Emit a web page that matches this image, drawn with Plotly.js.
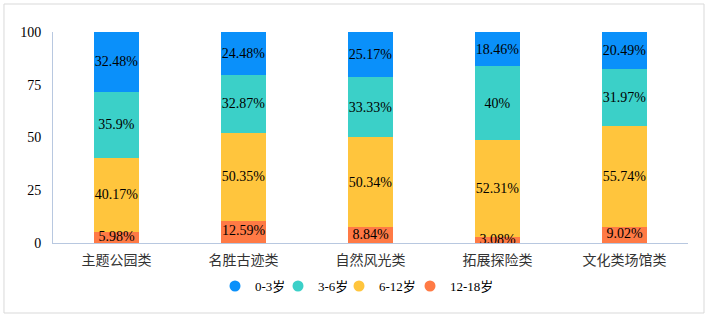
<!DOCTYPE html>
<html>
<head>
<meta charset="utf-8">
<script src="https://cdn.plot.ly/plotly-3.0.1.min.js"></script>
<style>html,body{margin:0;padding:0;background:#fff;}#chart{width:708px;height:319px;}</style>
</head>
<body>
<div id="chart"></div>
<script>
const categories = ['主题公园类', '名胜古迹类', '自然风光类', '拓展探险类', '文化类场馆类'];
const seriesNames = ['12-18岁', '6-12岁', '3-6岁', '0-3岁'];
const age12to18 = [5.98, 12.59, 8.84, 3.08, 9.02];
const age6to12 = [40.17, 50.35, 50.34, 52.31, 55.74];
const age3to6 = [35.9, 32.87, 33.33, 40, 31.97];
const age0to3 = [32.48, 24.48, 25.17, 18.46, 20.49];
const yTicks = [0, 25, 50, 75, 100];

const colors = ['#FF7A45', '#FFC53D', '#3BD0C8', '#0A90FA'];
const seriesValues = [age12to18, age6to12, age3to6, age0to3];
const FONT = '"Liberation Serif", "Noto Sans CJK SC", serif';

const traces = [];
seriesValues.forEach((vals, i) => {
  const bottom = i === 0;
  traces.push({
    type: 'bar',
    x: categories,
    y: vals,
    name: seriesNames[i],
    marker: {color: colors[i]},
    text: vals.map(v => v + '%'),
    textposition: bottom ? 'none' : 'inside',
    insidetextanchor: 'middle',
    constraintext: 'none',
    textangle: 0,
    insidetextfont: {family: FONT, size: 14, color: '#000'},
    hoverinfo: 'none',
    showlegend: false
  });
});
// labels of the bottom (thin) segments drawn on top so they can overflow the bar
const totals = categories.map((c, j) => seriesValues.reduce((s, arr) => s + arr[j], 0));
traces.push({
  type: 'scatter',
  mode: 'text',
  x: categories,
  y: age12to18.map((v, j) => v / totals[j] * 100 / 2),
  text: age12to18.map(v => v + '%'),
  textposition: 'middle center',
  textfont: {family: FONT, size: 14, color: '#000'},
  showlegend: false,
  hoverinfo: 'none',
  cliponaxis: false
});
// legend entries with round markers, in order 0-3, 3-6, 6-12, 12-18
const legendWidths = [18, 16, 26, 60];
[3, 2, 1, 0].forEach((i, k) => {
  traces.push({
    type: 'scatter',
    mode: 'markers',
    x: [null],
    y: [null],
    name: seriesNames[i],
    marker: {color: colors[i], size: 11, symbol: 'circle'},
    showlegend: true,
    legendwidth: legendWidths[k],
    hoverinfo: 'none'
  });
});

const layout = {
  width: 708,
  height: 319,
  margin: {l: 53, r: 20, t: 32, b: 76},
  paper_bgcolor: '#fff',
  plot_bgcolor: '#fff',
  barmode: 'stack',
  barnorm: 'percent',
  bargap: 0.638,
  font: {family: FONT, size: 14, color: '#000'},
  xaxis: {
    type: 'category',
    showline: true,
    linecolor: '#B8C8E0',
    linewidth: 1,
    ticks: '',
    showgrid: false,
    zeroline: false,
    tickfont: {family: FONT, size: 14, color: '#333'},
    ticklabelstandoff: 4
  },
  yaxis: {
    range: [0, 100.001],
    tickvals: yTicks,
    ticktext: yTicks.map(String),
    showline: true,
    linecolor: '#B8C8E0',
    linewidth: 1,
    ticks: '',
    showgrid: false,
    zeroline: false,
    tickfont: {family: FONT, size: 14, color: '#000'},
    ticklabelstandoff: 8
  },
  legend: {
    orientation: 'h',
    x: 0.2551,
    xanchor: 'left',
    y: -0.204,
    yanchor: 'middle',
    traceorder: 'normal',
    font: {family: FONT, size: 13, color: '#000'},
    bgcolor: 'rgba(0,0,0,0)'
  },
  shapes: [{
    type: 'rect',
    xref: 'paper', yref: 'paper',
    x0: -0.0772, x1: 1.0252, y0: -0.3318, y1: 1.1327,
    line: {color: '#D9D9D9', width: 1},
    fillcolor: 'rgba(0,0,0,0)',
    layer: 'below'
  }],
  showlegend: true
};

Plotly.newPlot('chart', traces, layout, {displayModeBar: false, staticPlot: true});
</script>
</body>
</html>
